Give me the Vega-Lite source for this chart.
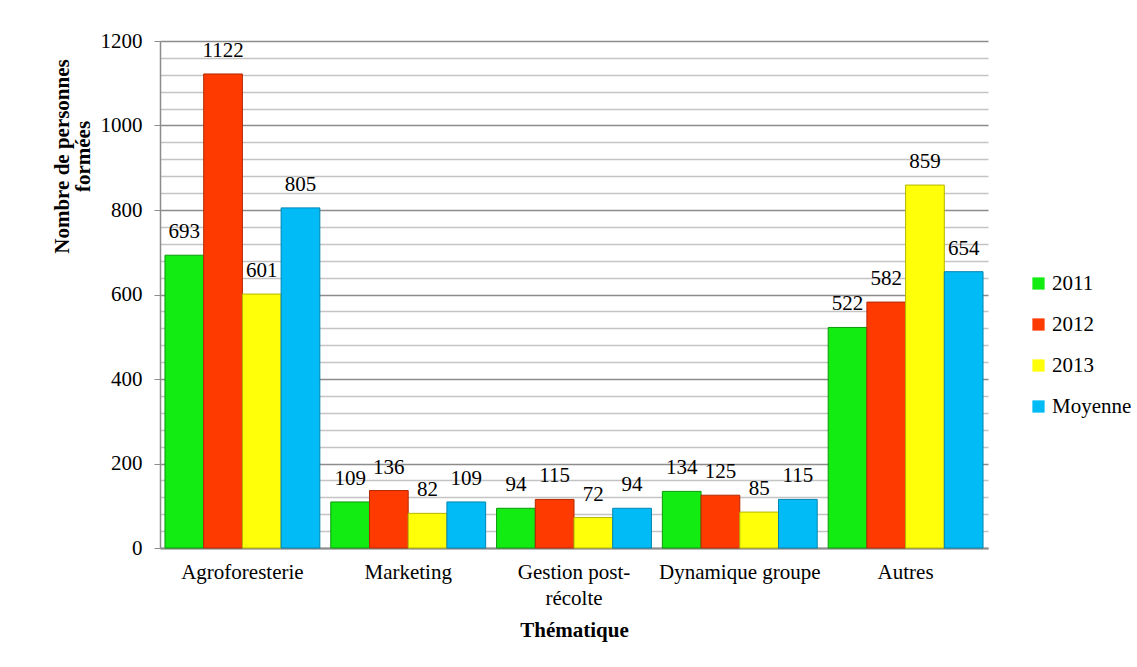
{
  "$schema": "https://vega.github.io/schema/vega-lite/v6.json",
  "autosize": {"type": "none"},
  "padding": {"left": 160, "top": 41, "right": 149, "bottom": 119},
  "width": 828,
  "height": 507,
  "background": "white",
  "data": {
    "values": [
      {"theme": "Agroforesterie", "serie": "2011", "n": 693},
      {"theme": "Agroforesterie", "serie": "2012", "n": 1122},
      {"theme": "Agroforesterie", "serie": "2013", "n": 601},
      {"theme": "Agroforesterie", "serie": "Moyenne", "n": 805},
      {"theme": "Marketing", "serie": "2011", "n": 109},
      {"theme": "Marketing", "serie": "2012", "n": 136},
      {"theme": "Marketing", "serie": "2013", "n": 82},
      {"theme": "Marketing", "serie": "Moyenne", "n": 109},
      {"theme": "Gestion post-récolte", "serie": "2011", "n": 94},
      {"theme": "Gestion post-récolte", "serie": "2012", "n": 115},
      {"theme": "Gestion post-récolte", "serie": "2013", "n": 72},
      {"theme": "Gestion post-récolte", "serie": "Moyenne", "n": 94},
      {"theme": "Dynamique groupe", "serie": "2011", "n": 134},
      {"theme": "Dynamique groupe", "serie": "2012", "n": 125},
      {"theme": "Dynamique groupe", "serie": "2013", "n": 85},
      {"theme": "Dynamique groupe", "serie": "Moyenne", "n": 115},
      {"theme": "Autres", "serie": "2011", "n": 522},
      {"theme": "Autres", "serie": "2012", "n": 582},
      {"theme": "Autres", "serie": "2013", "n": 859},
      {"theme": "Autres", "serie": "Moyenne", "n": 654}
    ]
  },
  "encoding": {
    "x": {
      "field": "theme",
      "type": "nominal",
      "sort": null,
      "title": "Thématique",
      "scale": {"paddingInner": 0.066, "paddingOuter": 0.03},
      "axis": {
        "labelAngle": 0,
        "ticks": false,
        "labelPadding": 13,
        "labelLineHeight": 26,
        "labelFont": "Times New Roman, Liberation Serif, serif",
        "labelFontSize": 21,
        "labelExpr": "datum.value == 'Gestion post-récolte' ? ['Gestion post-', 'récolte'] : datum.value",
        "domainColor": "#8c8c8c",
        "domainWidth": 2,
        "titleY": 82,
        "titleBaseline": "middle"
      }
    },
    "xOffset": {
      "field": "serie",
      "type": "nominal",
      "scale": {"paddingInner": 0, "paddingOuter": 0}
    },
    "y": {
      "field": "n",
      "type": "quantitative",
      "title": ["Nombre de personnes", "formées"],
      "scale": {"domain": [0, 1200], "nice": false},
      "axis": {
        "values": [0, 40, 80, 120, 160, 200, 240, 280, 320, 360, 400, 440, 480, 520, 560, 600, 640, 680, 720, 760, 800, 840, 880, 920, 960, 1000, 1040, 1080, 1120, 1160, 1200],
        "labelExpr": "datum.value % 200 === 0 ? datum.label : ''",
        "format": "d",
        "labelFont": "Times New Roman, Liberation Serif, serif",
        "labelFontSize": 21,
        "grid": true,
        "gridColor": {"condition": {"test": "datum.value % 200 === 0", "value": "#8c8c8c"}, "value": "#c4c4c4"},
        "gridWidth": 1.5,
        "tickSize": 6,
        "tickColor": "#8c8c8c",
        "tickOpacity": {"condition": {"test": "datum.value % 200 === 0", "value": 1}, "value": 0},
        "labelPadding": 12,
        "domainColor": "#8c8c8c",
        "domainWidth": 1.5,
        "titleX": -98,
        "titleY": 115,
        "titleBaseline": "middle",
        "titleLineHeight": 21
      }
    }
  },
  "layer": [
    {
      "mark": {"type": "bar", "strokeWidth": 1},
      "encoding": {
        "color": {
          "field": "serie",
          "type": "nominal",
          "title": null,
          "scale": {
            "domain": ["2011", "2012", "2013", "Moyenne"],
            "range": ["#12ec12", "#ff3a00", "#ffff0a", "#00bbf5"]
          },
          "legend": {
            "orient": "none",
            "legendX": 868,
            "legendY": 232,
            "symbolType": "square",
            "symbolSize": 150,
            "symbolStrokeWidth": 0,
            "symbolOpacity": 1,
            "rowPadding": 19,
            "labelOffset": 3,
            "labelFont": "Times New Roman, Liberation Serif, serif",
            "labelFontSize": 21
          }
        },
        "stroke": {
          "field": "serie",
          "type": "nominal",
          "legend": null,
          "scale": {
            "domain": ["2011", "2012", "2013", "Moyenne"],
            "range": ["#0a9a0a", "#b32800", "#b5b500", "#0085b0"]
          }
        }
      }
    },
    {
      "mark": {"type": "text", "baseline": "alphabetic", "dy": -17, "color": "black", "font": "Times New Roman, Liberation Serif, serif", "fontSize": 21},
      "encoding": {
        "text": {"field": "n", "type": "quantitative"}
      }
    }
  ],
  "config": {
    "font": "Times New Roman, Liberation Serif, serif",
    "view": {"stroke": null},
    "axis": {
      "labelColor": "black",
      "titleFont": "Times New Roman, Liberation Serif, serif",
      "titleFontSize": 21,
      "titleFontWeight": "bold",
      "titleColor": "black"
    },
    "legend": {
      "labelColor": "black"
    }
  }
}
